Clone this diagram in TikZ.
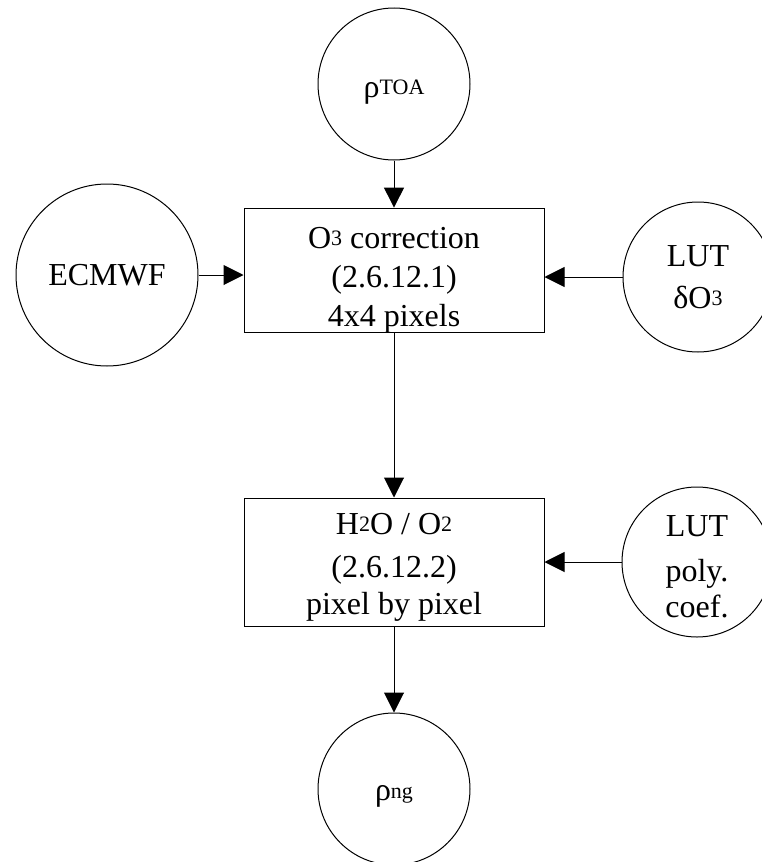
\documentclass[tikz,border=0pt]{standalone}
\usepackage{fontspec}
\setmainfont{Liberation Serif}
\usetikzlibrary{arrows.meta}
\newcommand\sups[1]{\raisebox{2.5pt}{\fontsize{22}{22}\selectfont #1}}
\newcommand\tstrut[1]{\rule{0pt}{#1}}
\begin{document}
\begin{tikzpicture}[x=1pt,y=-1pt,
  every node/.style={font=\fontsize{32}{39}\selectfont, align=center, line width=1pt, inner sep=0pt},
  blob/.style={draw, circle, minimum size=#1},
  stepbox/.style={draw, rectangle, minimum width=300pt},
  arr/.style={line width=1pt, -{Triangle[length=20pt,width=20pt]}}]
\useasboundingbox (0,0) rectangle (762,862);
\node[blob=152pt] (toa) at (394,84) {\tstrut{33pt}ρ\sups{TOA}};
\node[blob=182pt] (ecmwf) at (107,275) {ECMWF};
\node[blob=150pt] (lut1) at (698,277) {LUT\\[3pt]δO\sups{3}};
\node[stepbox, minimum height=119pt] (box1) at (394,270.5) {\tstrut{40pt}O\sups{3} correction\\(2.6.12.1)\\4x4 pixels};
\node[stepbox, minimum height=128pt] (box2) at (394,562) {\tstrut{31pt}H\sups{2}O / O\sups{2}\\[4pt](2.6.12.2)\\[-2pt]pixel by pixel};
\node[blob=150pt] (lut2) at (697,562) {\tstrut{31pt}LUT\\[6pt]poly.\\[-3pt]coef.};
\node[blob=152pt] (ng) at (394,789) {\tstrut{30pt}ρ\sups{ng}};
\draw[arr] (toa) -- (box1);
\draw[arr] (ecmwf) -- (ecmwf -| box1.west);
\draw[arr] (lut1) -- (lut1 -| box1.east);
\draw[arr] (box1) -- (box2);
\draw[arr] (lut2) -- (box2);
\draw[arr] (box2) -- (ng);
\end{tikzpicture}
\end{document}
